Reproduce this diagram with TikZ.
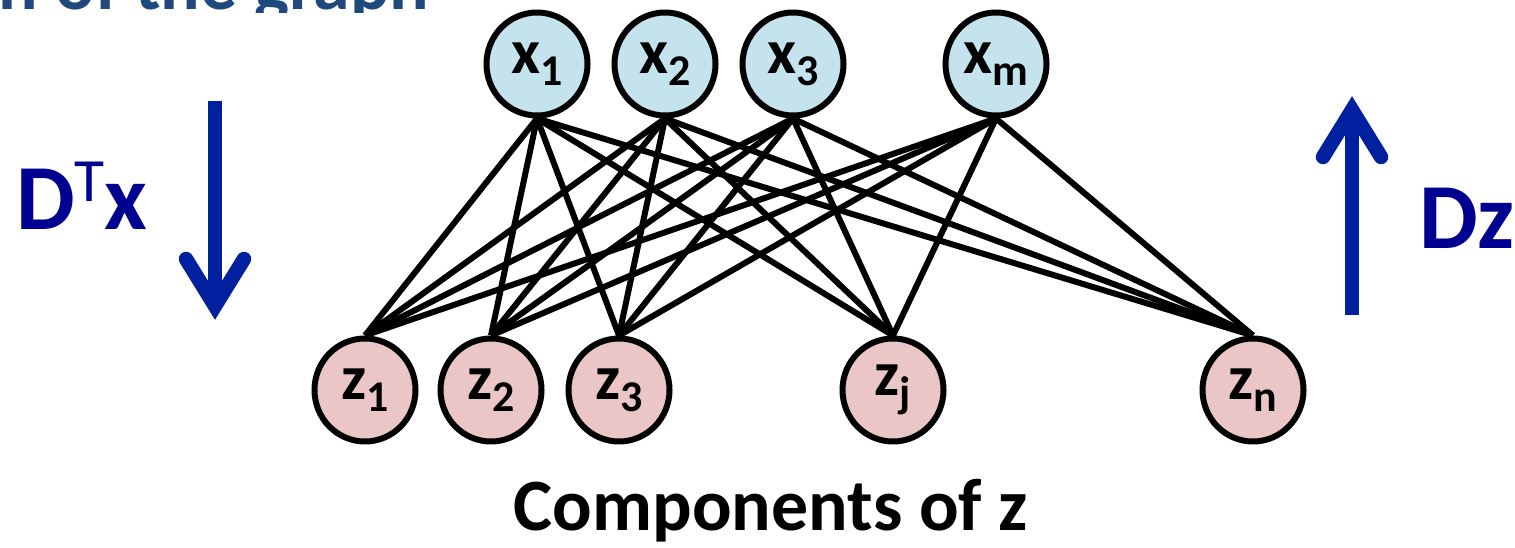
\documentclass[tikz,border=0pt]{standalone}
\usepackage{fontspec}
\setmainfont{Carlito}
\usepackage{tikz}
\usetikzlibrary{shapes.geometric}

\definecolor{topfill}{RGB}{197,227,236}
\definecolor{botfill}{RGB}{235,198,198}
\definecolor{arrowblue}{RGB}{0,32,160}
\definecolor{labelblue}{RGB}{0,0,145}
\definecolor{headblue}{RGB}{31,73,125}

% variable with a lowered index
\newcommand{\lbl}[2]{#1\raisebox{-7pt}{\fontsize{25}{25}\selectfont #2}}

\begin{document}
\begin{tikzpicture}[x=0.2mm, y=-0.2mm, line width=1.2mm,
  main/.style = {draw, ellipse, inner sep=0pt, minimum width=20.2mm, minimum height=20.6mm, font=\fontsize{36}{36}\selectfont\bfseries},
  xnode/.style = {main, fill=topfill},
  znode/.style = {main, fill=botfill},
  big/.style = {font=\fontsize{53}{53}\selectfont\bfseries, text=labelblue, inner sep=0pt},
  flow/.style = {arrowblue, line width=2.9mm}]
\useasboundingbox (0,0) rectangle (1515,548);

% heading, cut at the top
\begin{scope}
\clip (0,0) rectangle (600,13);
\node[anchor=base west, inner sep=0pt, text=headblue, font=\fontsize{42}{42}\selectfont\bfseries] (head) at (-4,10) {n of the graph};
\end{scope}

\node[xnode] (1) at (537,64) {\lbl{x}{1}};
\node[xnode] (2) at (665,64) {\lbl{x}{2}};
\node[xnode] (3) at (793,64) {\lbl{x}{3}};
\node[xnode] (4) at (996,64) {\lbl{x}{m}};
\node[znode] (5) at (365,390) {\lbl{z}{1}};
\node[znode] (6) at (491,390) {\lbl{z}{2}};
\node[znode] (7) at (619,390) {\lbl{z}{3}};
\node[znode] (8) at (893,390) {\lbl{z}{j}};
\node[znode] (9) at (1253,390) {\lbl{z}{n}};

\draw (1.south) -- (5.north);
\draw (1.south) -- (6.north);
\draw (1.south) -- (7.north);
\draw (1.south) -- (8.north);
\draw (1.south) -- (9.north);
\draw (2.south) -- (5.north);
\draw (2.south) -- (6.north);
\draw (2.south) -- (7.north);
\draw (2.south) -- (8.north);
\draw (2.south) -- (9.north);
\draw (3.south) -- (5.north);
\draw (3.south) -- (6.north);
\draw (3.south) -- (7.north);
\draw (3.south) -- (8.north);
\draw (3.south) -- (9.north);
\draw (4.south) -- (5.north);
\draw (4.south) -- (6.north);
\draw (4.south) -- (7.north);
\draw (4.south) -- (8.north);
\draw (4.south) -- (9.north);

% direction arrows
\coordinate (dtop) at (215,101);
\coordinate (dtip) at (215,306);
\draw[flow] (dtop) -- (dtip);
\draw[flow, line cap=round, line join=miter] (186,259) -- (dtip) -- (244,259);
\coordinate (ubot) at (1352,315);
\coordinate (utip) at (1352,110);
\draw[flow] (ubot) -- (utip);
\draw[flow, line cap=round, line join=miter] (1323,157) -- (utip) -- (1381,157);

\node[big, anchor=base west] (dtx) at (13,230) {D\raisebox{16pt}{\fontsize{35}{35}\selectfont\mdseries T}x};
\node[big, anchor=base west] (dz) at (1416,248) {Dz};

\node[anchor=base, inner sep=0pt, font=\fontsize{42}{42}\selectfont\bfseries] (caption) at (771,530) {Components of z};
\end{tikzpicture}
\end{document}
